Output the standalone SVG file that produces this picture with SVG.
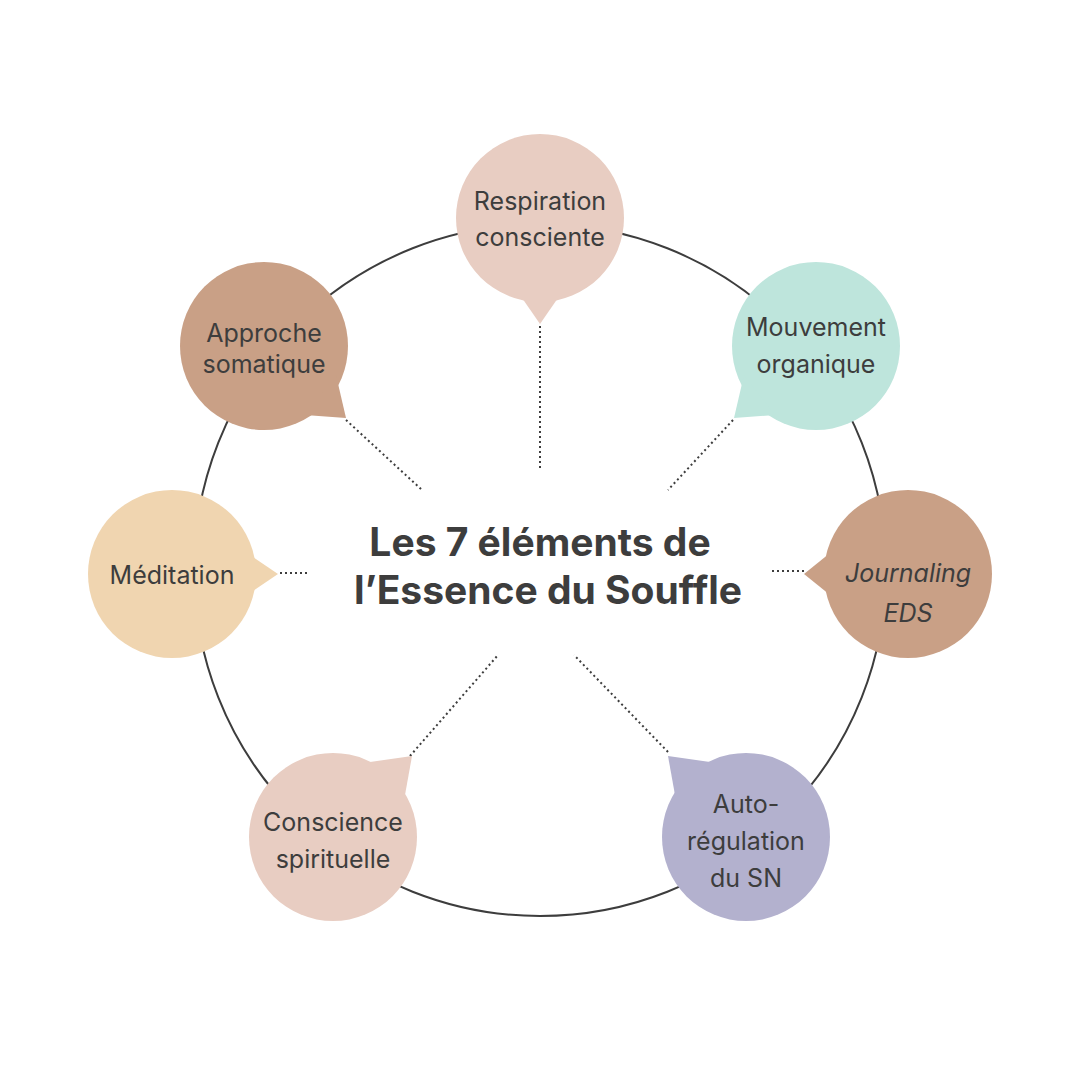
<svg xmlns="http://www.w3.org/2000/svg" width="1080" height="1080" viewBox="0 0 1080 1080">
<style>
.t{font-family:Inter,"Noto Sans",sans-serif;font-size:25px;fill:#3d3d3d;text-anchor:middle}
.d{stroke:#3d3d3d;stroke-width:2;stroke-dasharray:2 3;fill:none}
.h{font-family:Inter,"Noto Sans",sans-serif;font-size:39px;font-weight:700;fill:#3d3d3d;text-anchor:middle}
</style>
<rect width="1080" height="1080" fill="#fff"/>
<circle cx="540" cy="570" r="346" fill="none" stroke="#3d3d3d" stroke-width="2"/>
<g id="connectors">
<line class="d" x1="540" y1="326" x2="540" y2="470"/>
<line class="d" x1="346" y1="420" x2="422" y2="490"/>
<line class="d" x1="733" y1="420" x2="668" y2="490"/>
<line class="d" x1="280" y1="573" x2="310" y2="573"/>
<line class="d" x1="804" y1="571" x2="772" y2="571"/>
<line class="d" x1="410" y1="756" x2="498" y2="655"/>
<line class="d" x1="668" y1="752" x2="574" y2="655"/>
</g>
<g id="center"><text class="h" x="540" y="556">Les 7 éléments de</text><text class="h" x="548" y="604">l’Essence du Souffle</text></g>
<g id="n1"><circle cx="540" cy="218" r="84" fill="#E8CDC2"/><polygon points="520,295 560,295 540,324" fill="#E8CDC2"/><text class="t" x="540" y="210">Respiration</text><text class="t" x="540" y="246">consciente</text></g>
<g id="n2"><circle cx="264" cy="346" r="84" fill="#C9A086"/><polygon points="336,375 305,415 346,418" fill="#C9A086"/><text class="t" x="264" y="342">Approche</text><text class="t" x="264" y="373">somatique</text></g>
<g id="n3"><circle cx="816" cy="346" r="84" fill="#BEE5DC"/><polygon points="744,375 775,415 734,418" fill="#BEE5DC"/><text class="t" x="816" y="336">Mouvement</text><text class="t" x="816" y="373">organique</text></g>
<g id="n4"><circle cx="172" cy="574" r="84" fill="#F0D5B0"/><polygon points="250,555 250,593 278,574" fill="#F0D5B0"/><text class="t" x="172" y="584">Méditation</text></g>
<g id="n5"><circle cx="908" cy="574" r="84" fill="#C9A086"/><polygon points="830,553 830,595 804,574" fill="#C9A086"/><text class="t" x="908" y="582" font-style="italic">Journaling</text><text class="t" x="908" y="622" font-style="italic">EDS</text></g>
<g id="n6"><circle cx="333" cy="837" r="84" fill="#E8CDC2"/><polygon points="370,762 412,756 405,795" fill="#E8CDC2"/><text class="t" x="333" y="831">Conscience</text><text class="t" x="333" y="868">spirituelle</text></g>
<g id="n7"><circle cx="746" cy="837" r="84" fill="#B3B1CE"/><polygon points="710,762 668,756 675,795" fill="#B3B1CE"/><text class="t" x="746" y="813">Auto-</text><text class="t" x="746" y="850">régulation</text><text class="t" x="746" y="887">du SN</text></g>
</svg>
